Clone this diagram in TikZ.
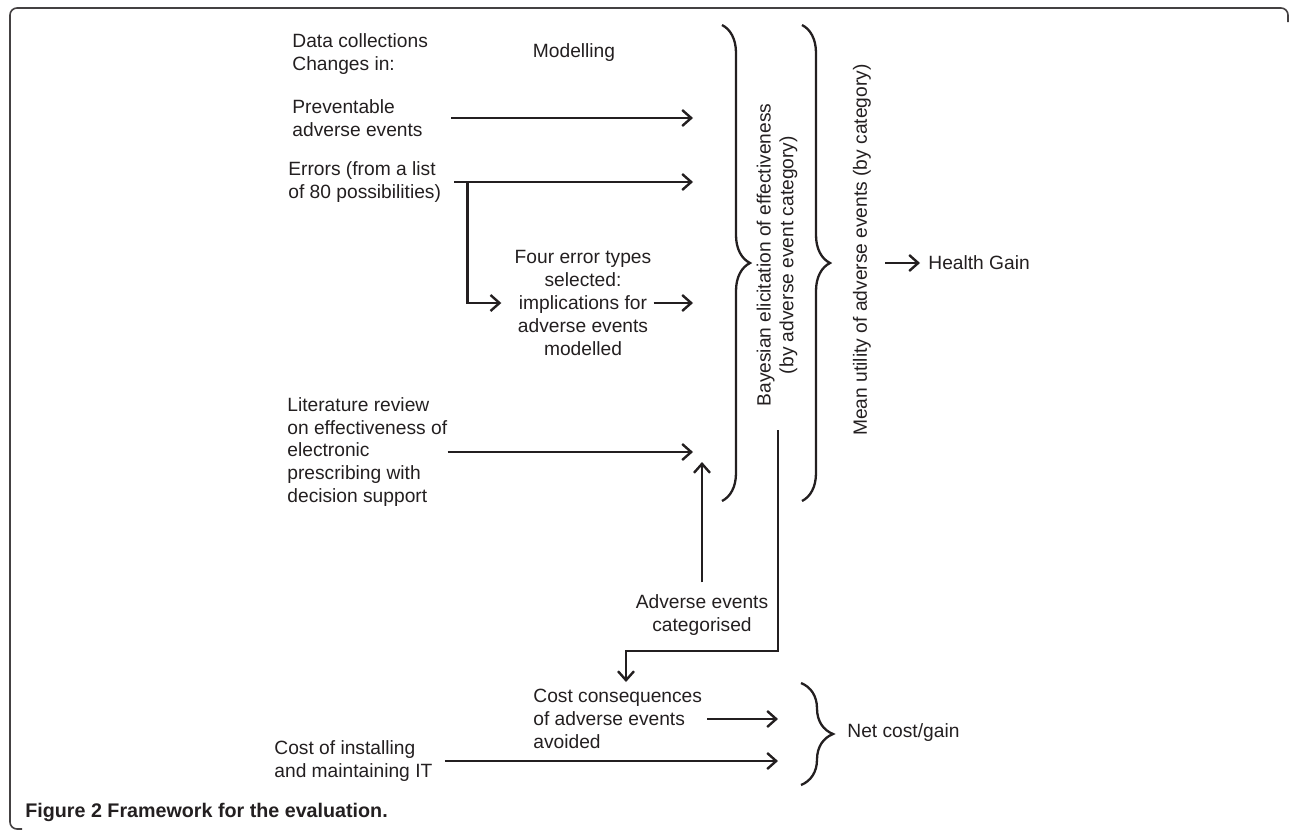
\documentclass[tikz,border=0pt]{standalone}
\usepackage{fontspec}
\setmainfont{Liberation Sans}
\usepackage{xcolor}
\usepackage{tikz}
\usetikzlibrary{positioning, arrows.meta, decorations.pathreplacing}
\definecolor{ink}{RGB}{35,31,32}
\tikzset{
  lbl/.style={inner sep=0pt, text=ink, font=\fontsize{9.6}{11.4}\selectfont},
  arr/.style={draw=ink, line width=1.15pt, -{Straight Barb[length=4.5pt, width=8pt, line width=1.2pt]}},
  brc/.style={draw=ink, line width=1.15pt, decorate, decoration={brace, amplitude=#1}},
  brc/.default=14pt
}

\begin{document}
\begin{tikzpicture}[x=0.5pt, y=-0.5pt]
            \useasboundingbox (0,0) rectangle (1290,831);
            \draw[ink!85, line width=0.8pt, rounded corners=3.5pt] (22,829) -| (10,8) -| (1288,22);
            \node[lbl, anchor=west, align=left] (datacoll) at (292,54) {Data collections\\Changes in:};
            \node[lbl] (model) at (574,53) {Modelling};
            \node[lbl, anchor=west, align=left] (prevent) at (292,118) {Preventable\\adverse events};
            \node[lbl, anchor=west, align=left] (errors) at (288,182) {Errors (from a list\\of 80 possibilities)};
            \node[lbl, align=center] (four) at (583,303) {Four error types\\selected:\\implications for\\adverse events\\modelled};
            \node[lbl, anchor=west, align=left] (litrev) at (287,452) {Literature review\\on effectiveness of\\electronic\\prescribing with\\decision support};
            \node[lbl, align=center] (advcat) at (702,615) {Adverse events\\categorised};
            \node[lbl, anchor=west, align=left] (costcons) at (533,719) {Cost consequences\\of adverse events\\avoided};
            \node[lbl, anchor=west, align=left] (costinst) at (274,761) {Cost of installing\\and maintaining IT};
            \node[lbl, rotate=90, align=center] (bayes) at (777,255) {Bayesian elicitation of effectiveness\\(by adverse event category)};
            \node[lbl, rotate=90] (meanutil) at (862,250) {Mean utility of adverse events (by category)};
            \node[lbl, anchor=west] (health) at (928,263) {Health Gain};
            \node[lbl, anchor=west] (netcost) at (847,733) {Net cost/gain};
            \node[lbl, anchor=west, font=\fontsize{9.85}{12}\selectfont\bfseries] (caption) at (25,812) {Figure 2 Framework for the evaluation.};
            \coordinate (bayin) at (693,0); \coordinate (netin) at (778,0);
            \coordinate (upend) at (702,462); \coordinate (bayout) at (778,430);
            \coordinate (turn) at (626,651); \coordinate (hgstart) at (885,263);
            \path ([xshift=13pt]errors.east) coordinate (split);
            \draw[arr] ([xshift=14pt]prevent.east) -- (prevent.east -| bayin);
            \draw[arr] ([xshift=6.5pt]errors.east) -- (errors.east -| bayin);
            \draw[arr] (split) |- ([xshift=-6.5pt]four.west);
            \draw[arr] ([xshift=1pt]four.east) -- (four.east -| bayin);
            \draw[arr] (litrev.east) -- (litrev.east -| bayin);
            \draw[arr] ([yshift=6pt]advcat.north) -- (advcat.north |- upend);
            \draw[arr] (bayout) |- (turn) -- ([yshift=3.5pt]costcons.north -| turn);
            \draw[arr] ([xshift=2.5pt]costcons.east) -- (costcons.east -| netin);
            \draw[arr] ([xshift=6pt]costinst.east) -- (costinst.east -| netin);
            \draw[arr] (hgstart) -- ([xshift=-4pt]health.west);
            \draw[brc] (722,25) -- (722,501); \draw[brc] (802,25) -- (802,501);
            \draw[brc=16pt] (801,683) -- (801,785);
        \end{tikzpicture}
\end{document}
